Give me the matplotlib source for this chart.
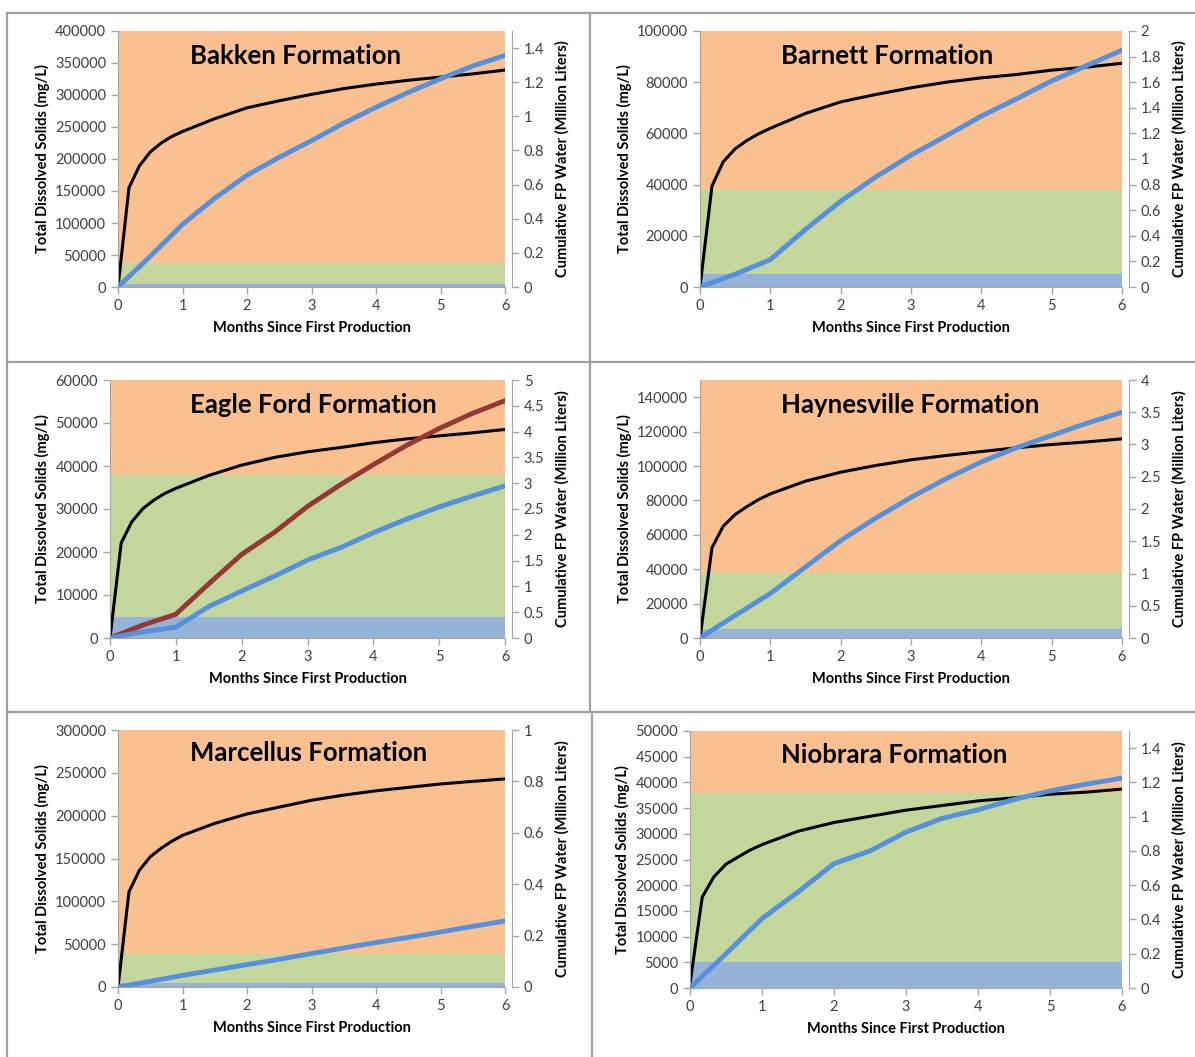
import matplotlib
matplotlib.use('Agg')
import matplotlib.pyplot as plt
from matplotlib.lines import Line2D

plt.rcParams['font.family'] = ['Lato', 'DejaVu Sans']

W, H = 1195, 1057

# months since first production
months_tds = [0, 0.17, 0.33, 0.5, 0.67, 0.83, 1, 1.5, 2, 2.5, 3, 3.5, 4, 4.5, 5, 5.5, 6]
months_fp = [0, 0.5, 1, 1.5, 2, 2.5, 3, 3.5, 4, 4.5, 5, 5.5, 6]

# total dissolved solids (mg/L)
bakken_tds = [0, 155000, 189000, 211000, 225000, 235000, 243000, 263000, 280000, 291000,
              301000, 310000, 317000, 323000, 328000, 333000, 339000]
barnett_tds = [0, 39400, 48900, 54000, 57300, 59800, 62000, 67800, 72300, 75200,
               77800, 80000, 81700, 83000, 84700, 85900, 87400]
eagleford_tds = [0, 22100, 27000, 30100, 32100, 33600, 34800, 37800, 40200, 42000,
                 43300, 44300, 45400, 46300, 47000, 47700, 48500]
haynesville_tds = [0, 52500, 65000, 71800, 76500, 80400, 83800, 91200, 96400, 100300,
                   103600, 106100, 108400, 110600, 112500, 114000, 115800]
marcellus_tds = [0, 111000, 136000, 152000, 162000, 170000, 177000, 191000, 202000, 210000,
                 218000, 224000, 229000, 233000, 237000, 240000, 243000]
niobrara_tds = [800, 17700, 21600, 24100, 25500, 26800, 27900, 30500, 32200, 33400,
                34600, 35500, 36400, 37000, 37700, 38100, 38700]

# cumulative flowback / produced water (million liters)
bakken_fp = [0, 0.18, 0.367, 0.52, 0.655, 0.76, 0.857, 0.96, 1.053, 1.14, 1.22, 1.295, 1.357]
barnett_fp = [0, 0.1, 0.214, 0.45, 0.67, 0.86, 1.03, 1.18, 1.335, 1.47, 1.61, 1.73, 1.85]
eagleford_fp = [0, 0.12, 0.21, 0.61, 0.91, 1.2, 1.51, 1.75, 2.04, 2.3, 2.54, 2.75, 2.95]
eagleford_fp2 = [0, 0.25, 0.46, 1.05, 1.62, 2.05, 2.55, 2.97, 3.36, 3.73, 4.06, 4.35, 4.6]
haynesville_fp = [0, 0.35, 0.69, 1.1, 1.51, 1.86, 2.18, 2.47, 2.73, 2.95, 3.14, 3.33, 3.5]
marcellus_fp = [0, 0.022, 0.045, 0.066, 0.087, 0.108, 0.13, 0.152, 0.173, 0.193, 0.214, 0.236, 0.257]
niobrara_fp = [0, 0.2, 0.405, 0.56, 0.726, 0.8, 0.91, 0.99, 1.04, 1.1, 1.15, 1.19, 1.225]

# salinity classes (mg/L)
fresh_max = 5000
brackish_max = 38000

ORANGE = '#FAC090'
GREEN = '#C3D69B'
BLUE_BAND = '#95B3D7'
BLUE = '#5590DC'
RED = '#953735'
GRAY = '#A6A6A6'
TICK = '#404040'


def panel(fig, box, title, title_px, tds, fp, ymax, ytop, ystep, y2max, y2top, y2step, fp2=None):
    left, right, top, bottom = box
    ax = fig.add_axes([left / W, 1 - bottom / H, (right - left) / W, (bottom - top) / H])
    ax.axhspan(0, fresh_max, color=BLUE_BAND, lw=0)
    ax.axhspan(fresh_max, brackish_max, color=GREEN, lw=0)
    ax.axhspan(brackish_max, ymax, color=ORANGE, lw=0)
    ax.plot(months_tds, tds, color='black', lw=2.2)
    ax.set_xlim(0, 6)
    ax.set_ylim(0, ymax)
    ax.set_xticks(range(7))
    yt = list(range(0, ytop + 1, ystep))
    ax.set_yticks(yt)
    ax.set_yticklabels([str(v) for v in yt])
    ax.set_xlabel('Months Since First Production', fontsize=10.5, fontweight='bold', labelpad=6)
    ax.set_ylabel('Total Dissolved Solids (mg/L)', fontsize=10.5, fontweight='bold', labelpad=4)

    ax2 = ax.twinx()
    if fp2 is not None:
        ax2.plot(months_fp, fp2, color=RED, lw=3.5, solid_capstyle='round')
    ax2.plot(months_fp, fp, color=BLUE, lw=3.5, solid_capstyle='round')
    ax2.set_ylim(0, y2max)
    n = int(round(y2top / y2step))
    ticks = [round(i * y2step, 2) for i in range(n + 1)]
    ax2.set_yticks(ticks)
    ax2.set_yticklabels([f'{t:g}' for t in ticks])
    ax2.set_ylabel('Cumulative FP Water (Million Liters)', fontsize=10.5, fontweight='bold', labelpad=8)

    for a in (ax, ax2):
        a.spines['top'].set_visible(False)
        for s in a.spines.values():
            s.set_color(GRAY)
        a.tick_params(colors=GRAY, labelcolor=TICK, labelsize=10.5, length=5, width=1)
    ax2.spines['left'].set_visible(False)
    ax2.spines['bottom'].set_visible(False)
    ax2.spines['right'].set_position(('outward', 5))
    ax.spines['right'].set_visible(False)

    fig.text(title_px[0] / W, 1 - title_px[1] / H, title, fontsize=18.5, fontweight='bold',
             ha='left', va='center')


fig = plt.figure(figsize=(W / 100, H / 100), dpi=100)

panel(fig, (118, 505, 31, 287), 'Bakken Formation', (190, 56),
      bakken_tds, bakken_fp, 400000, 400000, 50000, 1.5, 1.4, 0.2)
panel(fig, (700, 1122, 31, 287), 'Barnett Formation', (781, 56),
      barnett_tds, barnett_fp, 100000, 100000, 20000, 2, 2, 0.2)
panel(fig, (110, 505, 380, 638), 'Eagle Ford Formation', (190, 405),
      eagleford_tds, eagleford_fp, 60000, 60000, 10000, 5, 5, 0.5, fp2=eagleford_fp2)
panel(fig, (700, 1122, 380, 638), 'Haynesville Formation', (781, 405),
      haynesville_tds, haynesville_fp, 150000, 140000, 20000, 4, 4, 0.5)
panel(fig, (118, 505, 730, 987), 'Marcellus Formation', (190, 753),
      marcellus_tds, marcellus_fp, 300000, 300000, 50000, 1, 1, 0.2)
panel(fig, (690, 1122, 731, 988), 'Niobrara Formation', (781, 755),
      niobrara_tds, niobrara_fp, 50000, 50000, 5000, 1.5, 1.4, 0.2)

# panel frames
frame = [((7, 1195), (13, 13)), ((7, 7), (13, 1057)), ((7, 1195), (362, 362)),
         ((7, 1195), (712, 712)), ((590, 590), (13, 712)), ((592, 592), (712, 1057))]
for xs, ys in frame:
    fig.add_artist(Line2D([x / W for x in xs], [1 - y / H for y in ys],
                          color='#A0A0A0', lw=1.6, transform=fig.transFigure))

fig.savefig('out.png', dpi=100)
